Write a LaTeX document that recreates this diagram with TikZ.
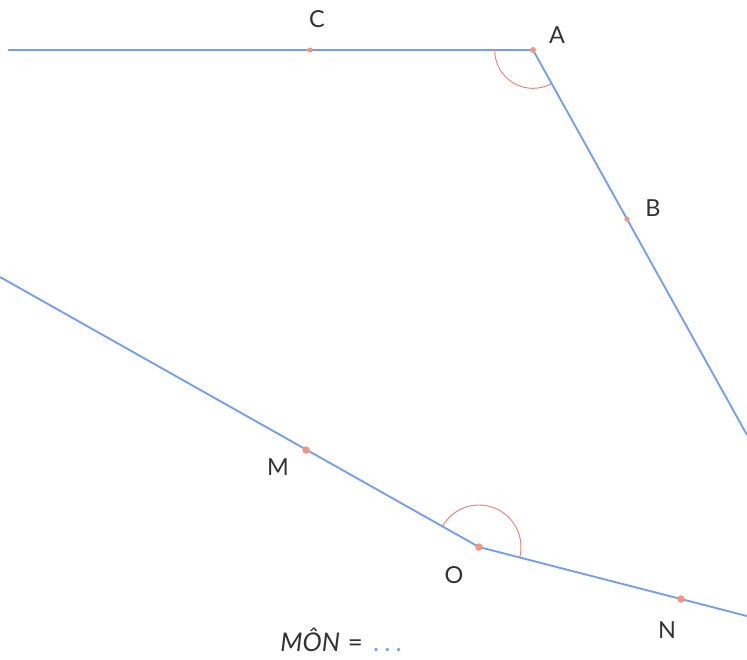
\documentclass[tikz,border=0pt]{standalone}
\usepackage{fontspec}
\setmainfont{Lato}
\usetikzlibrary{angles,positioning}

\definecolor{rayblue}{RGB}{116,158,238}
\definecolor{ptsalmon}{RGB}{242,150,130}
\definecolor{arcsalmon}{RGB}{236,128,118}
\definecolor{labelgray}{RGB}{50,50,50}

\begin{document}
\begin{tikzpicture}[
  x=0.03cm, y=0.03cm,
  font=\fontsize{20}{24}\selectfont,
  ray/.style={draw=rayblue, line width=1.6pt},
  anglearc/.style={draw=arcsalmon, line width=0.8pt},
  pt/.style={fill=ptsalmon},
  lbl/.style={text=labelgray, inner sep=0pt}
]
\useasboundingbox (0,0) rectangle (747,-659);

% points
\coordinate (A) at (533,-50);
\coordinate (C) at (310,-50);
\coordinate (B) at (627,-219);
\coordinate (O) at (479,-547);
\coordinate (M) at (306,-450);
\coordinate (N) at (681,-599);
% free ends of the rays
\coordinate (cend) at (8,-50);
\coordinate (bend) at (747,-435);
\coordinate (mend) at (0,-277);
\coordinate (nend) at (747,-616);

\draw[ray] (A) -- (cend);
\draw[ray] (A) -- (bend);
\draw[ray] (O) -- (mend);
\draw[ray] (O) -- (nend);

\pic[anglearc, angle radius=1.15cm] {angle=C--A--B};
\pic[anglearc, angle radius=1.26cm] {angle=N--O--M};

\fill[pt] (A) circle (2.6pt);
\fill[pt] (C) circle (2.2pt);
\fill[pt] (B) circle (2.2pt);
\fill[pt] (O) circle (3.2pt);
\fill[pt] (M) circle (3.2pt);
\fill[pt] (N) circle (3.2pt);

\node[lbl] (labA) at (557,-35) {A};
\node[lbl] (labC) at (317,-19) {C};
\node[lbl] (labB) at (653,-208) {B};
\node[lbl] (labM) at (278,-467) {M};
\node[lbl] (labO) at (454,-575) {O};
\node[lbl] (labN) at (667,-630) {N};

\node[lbl, font=\fontsize{22}{26}\selectfont] (formula) at (341,-640)
  {\itshape MÔN\upshape\hspace{0.3em}=\hspace{0.4em}\textcolor{rayblue}{.\hspace{0.2em}.\hspace{0.2em}.}};
\end{tikzpicture}
\end{document}
